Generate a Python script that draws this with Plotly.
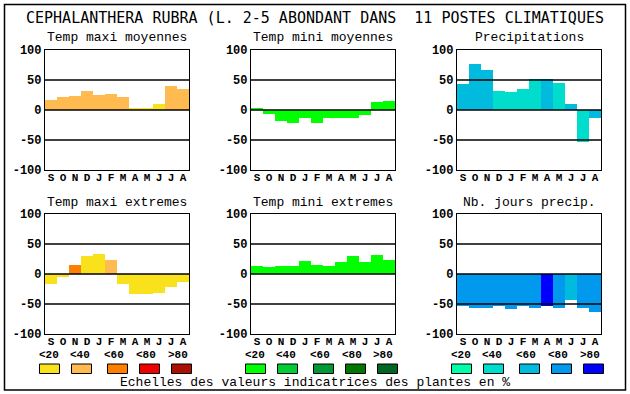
import plotly.graph_objects as go

W, H = 630, 394

months = ["S", "O", "N", "D", "J", "F", "M", "A", "M", "J", "J", "A"]
scale_labels = ["<20", "<40", "<60", "<80", ">80"]

warm = ["#F9E21C", "#FFBA50", "#FF7F00", "#EE0000", "#AA1100"]
green = ["#00FF00", "#00CC33", "#009933", "#007700", "#006622"]
blue = ["#00FFAA", "#00DDCC", "#00BBDD", "#0099EE", "#0000FF"]

titles = ["Temp maxi moyennes", "Temp mini moyennes", "Precipitations",
          "Temp maxi extremes", "Temp mini extremes", "Nb. jours precip."]

tmax_moy = [17, 22, 23, 32, 25, 27, 22, 2, 2, 10, 40, 35]
tmax_moy_cls = [1, 1, 1, 1, 1, 1, 1, 0, 0, 0, 1, 1]
tmin_moy = [2, -6, -18, -21, -14, -21, -13, -13, -13, -8, 13, 15]
tmin_moy_cls = [0] * 12
precip = [44, 77, 67, 32, 30, 35, 52, 52, 45, 10, -53, -13]
precip_cls = [2, 2, 2, 1, 1, 1, 1, 2, 1, 2, 1, 2]
tmax_ext = [-16, -5, 15, 30, 33, 23, -16, -34, -34, -31, -21, -13]
tmax_ext_cls = [0, 0, 2, 0, 0, 1, 0, 0, 0, 0, 0, 0]
tmin_ext = [13, 12, 13, 13, 22, 15, 13, 20, 30, 20, 32, 23]
tmin_ext_cls = [0] * 12
jours = [-53, -56, -56, -54, -58, -54, -56, -54, -56, -43, -56, -63]
jours_cls = [3, 3, 3, 3, 3, 3, 3, 4, 3, 2, 3, 3]

panels = [
    (tmax_moy, tmax_moy_cls, warm),
    (tmin_moy, tmin_moy_cls, green),
    (precip, precip_cls, blue),
    (tmax_ext, tmax_ext_cls, warm),
    (tmin_ext, tmin_ext_cls, green),
    (jours, jours_cls, blue),
]

col_x0 = [45, 251, 457]
pw = 144
row_y = [(50, 170), (214, 334)]

MONO = "Liberation Mono"


def px(x):
    return x / W


def py(y):
    return 1 - y / H


fig = go.Figure()
shapes = []
annotations = []

for i, (vals, cls, pal) in enumerate(panels):
    r, c = divmod(i, 3)
    n = i + 1
    xa = "x" if n == 1 else f"x{n}"
    ya = "y" if n == 1 else f"y{n}"
    fig.add_trace(go.Bar(
        x=list(range(12)), y=vals,
        marker=dict(color=[pal[k] for k in cls], line=dict(width=0)),
        xaxis=xa, yaxis=ya, showlegend=False, hoverinfo="skip",
    ))
    x0 = col_x0[c]
    y0, y1 = row_y[r]
    axkey = "xaxis" if n == 1 else f"xaxis{n}"
    aykey = "yaxis" if n == 1 else f"yaxis{n}"
    fig.layout[axkey] = dict(
        domain=[px(x0), px(x0 + pw)], anchor=ya, range=[-0.5, 11.5],
        tickmode="array", tickvals=list(range(12)), ticktext=months,
        showgrid=False, zeroline=False, showline=True, mirror=True,
        linecolor="black", linewidth=1.2, ticks="", automargin=False,
        ticklabelstandoff=-3,
        tickfont=dict(family=MONO, size=11, color="black", weight="bold"),
        fixedrange=True,
    )
    fig.layout[aykey] = dict(
        domain=[py(y1), py(y0)], anchor=xa, range=[-100, 100],
        tickmode="array", tickvals=[-100, -50, 0, 50, 100],
        ticktext=["-100", "-50", "0", "50", "100"],
        showgrid=False, zeroline=False, showline=True, mirror=True,
        linecolor="black", linewidth=1.2, ticks="", automargin=False,
        tickfont=dict(family=MONO, size=12, color="black", weight="bold"),
        fixedrange=True,
    )
    for v in (50, 0, -50):
        shapes.append(dict(type="line", xref=f"{xa} domain", yref=ya,
                           x0=0, x1=1, y0=v, y1=v,
                           line=dict(color="black", width=1.3), layer="above"))
    annotations.append(dict(text=titles[i], x=px(x0 + pw / 2), y=py(y0 - 12),
                            xref="paper", yref="paper", showarrow=False,
                            xanchor="center", yanchor="middle",
                            font=dict(family=MONO, size=13, color="black")))

# colour scales below each column
sw_off = [-5.5, 26.5, 62.5, 94.5, 126.5]
lab_off = [4, 34.5, 68.5, 100.5, 132.5]
for c, pal in enumerate([warm, green, blue]):
    x0 = col_x0[c]
    for k in range(5):
        shapes.append(dict(type="rect", xref="paper", yref="paper",
                           x0=px(x0 + sw_off[k]), x1=px(x0 + sw_off[k] + 20),
                           y0=py(373.5), y1=py(364),
                           fillcolor=pal[k], line=dict(color="black", width=1)))
        annotations.append(dict(text=scale_labels[k].replace("<", "&lt;").replace(">", "&gt;"),
                                x=px(x0 + lab_off[k]), y=py(355),
                                xref="paper", yref="paper", showarrow=False,
                                xanchor="center", yanchor="middle",
                                font=dict(family=MONO, size=11, color="black", weight="bold")))

annotations.append(dict(text="CEPHALANTHERA RUBRA (L. 2-5 ABONDANT DANS  11 POSTES CLIMATIQUES",
                        x=px(315), y=py(18), xref="paper", yref="paper", showarrow=False,
                        xanchor="center", yanchor="middle",
                        font=dict(family="DejaVu Sans Mono", size=15, color="black")))
annotations.append(dict(text="Echelles des valeurs indicatrices des plantes en %",
                        x=px(315), y=py(382), xref="paper", yref="paper", showarrow=False,
                        xanchor="center", yanchor="middle",
                        font=dict(family=MONO, size=13, color="black")))

shapes.append(dict(type="rect", xref="paper", yref="paper",
                   x0=px(4.5), x1=px(625.5), y0=py(390), y1=py(4.5),
                   line=dict(color="black", width=1.5)))

fig.update_layout(
    width=W, height=H, autosize=False,
    margin=dict(l=0, r=0, t=0, b=0, pad=0, autoexpand=False),
    paper_bgcolor="white", plot_bgcolor="white",
    bargap=0, shapes=shapes, annotations=annotations,
)

fig.write_html("out.html", config={"displayModeBar": False, "responsive": False},
               post_script="document.body.style.margin='0';document.body.style.padding='0';")
